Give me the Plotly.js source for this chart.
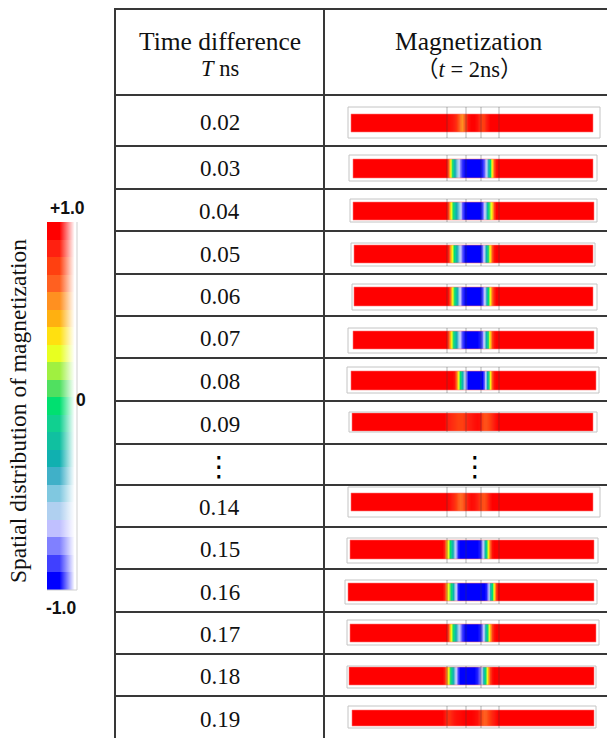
<!DOCTYPE html>
<html>
<head>
<meta charset="utf-8">
<script src="https://cdn.plot.ly/plotly-3.0.1.min.js"></script>
<style>
  html, body { margin: 0; padding: 0; background: #ffffff; }
  #chart { width: 607px; height: 738px; }
</style>
</head>
<body>
<div id="chart"></div>
<script>
// ---- data ---------------------------------------------------------------
// Time difference T (ns) of each simulated case
const timeDiff = ['0.02', '0.03', '0.04', '0.05', '0.06', '0.07', '0.08', '0.09',
                  '0.14', '0.15', '0.16', '0.17', '0.18', '0.19'];

// Sample positions along the nanowire (nm)
const wirePos = [-10, 90, 92, 94, 96, 98, 100, 102, 104, 106, 108, 110, 113, 116, 119,
                 122, 125, 128, 130, 132, 134, 136, 138, 140, 142, 144, 146, 148, 150, 260];

// Normalised magnetization along the wire at t = 2 ns, one list per T
const m002 = [1, 1, 1, 1, 0.97, 0.95, 0.93, 0.9, 0.85, 0.75, 0.65, 0.6, 0.75, 0.95, 1, 1, 0.95, 0.85, 0.8, 0.82, 0.9, 0.95, 1, 1, 1, 1, 1, 1, 1, 1];
const m003 = [1, 1, 1, 1, 0.75, 0.4, 0.05, -0.25, -0.45, -0.6, -0.8, -0.92, -1, -1, -1, -1, -1, -1, -0.95, -0.85, -0.65, -0.35, 0, 0.4, 0.75, 0.95, 1, 1, 1, 1];
const m004 = [1, 1, 1, 1, 0.8, 0.45, 0.15, -0.1, -0.3, -0.45, -0.6, -0.85, -1, -1, -1, -1, -1, -1, -0.9, -0.7, -0.45, -0.05, 0.2, 0.45, 0.8, 1, 1, 1, 1, 1];
const m005 = [1, 1, 1, 1, 0.9, 0.6, 0.3, 0, -0.25, -0.45, -0.65, -0.85, -1, -1, -1, -1, -1, -1, -0.85, -0.6, -0.3, 0.05, 0.4, 0.75, 0.95, 1, 1, 1, 1, 1];
const m006 = [1, 1, 1, 1, 0.95, 0.7, 0.35, 0.05, -0.2, -0.45, -0.7, -0.9, -1, -1, -1, -1, -1, -1, -0.9, -0.7, -0.4, 0, 0.35, 0.7, 0.9, 1, 1, 1, 1, 1];
const m007 = [1, 1, 1, 1, 0.8, 0.5, 0.2, -0.1, -0.3, -0.5, -0.7, -0.88, -1, -1, -1, -1, -1, -0.95, -0.85, -0.6, -0.3, 0.05, 0.45, 0.8, 0.95, 1, 1, 1, 1, 1];
const m008 = [1, 1, 1, 1, 1, 1, 1, 0.95, 0.7, 0.35, 0, -0.3, -0.7, -1, -1, -1, -1, -1, -1, -0.85, -0.5, -0.1, 0.35, 0.75, 0.95, 1, 1, 1, 1, 1];
const m009 = [1, 1, 1, 0.95, 0.9, 0.88, 0.86, 0.84, 0.82, 0.8, 0.8, 0.8, 0.85, 0.9, 0.92, 0.95, 0.97, 0.95, 0.8, 0.75, 0.75, 0.78, 0.82, 0.87, 0.92, 0.96, 1, 1, 1, 1];
const m014 = [1, 1, 1, 1, 0.97, 0.94, 0.9, 0.86, 0.8, 0.72, 0.68, 0.7, 0.82, 0.92, 0.97, 0.95, 0.9, 0.82, 0.76, 0.75, 0.8, 0.88, 0.95, 1, 1, 1, 1, 1, 1, 1];
const m015 = [1, 1, 0.9, 0.55, 0.3, 0, -0.25, -0.5, -0.75, -0.95, -1, -1, -1, -1, -1, -1, -1, -0.95, -0.75, -0.45, -0.05, 0.35, 0.7, 0.95, 1, 1, 1, 1, 1, 1];
const m016 = [1, 1, 0.9, 0.6, 0.3, 0.1, -0.15, -0.45, -0.7, -0.95, -1, -1, -1, -1, -1, -1, -1, -1, -1, -1, -0.95, -0.75, -0.35, 0, 0.4, 0.8, 1, 1, 1, 1];
const m017 = [1, 1, 1, 1, 0.8, 0.45, 0.15, -0.1, -0.35, -0.55, -0.75, -0.9, -1, -1, -1, -1, -1, -0.95, -0.8, -0.55, -0.2, 0.15, 0.5, 0.8, 0.95, 1, 1, 1, 1, 1];
const m018 = [1, 1, 0.92, 0.65, 0.35, 0.05, -0.2, -0.45, -0.7, -0.9, -1, -1, -1, -1, -1, -1, -0.95, -0.8, -0.55, -0.2, 0.15, 0.5, 0.8, 0.95, 1, 1, 1, 1, 1, 1];
const m019 = [1, 1, 0.95, 0.88, 0.85, 0.86, 0.9, 0.93, 0.95, 0.96, 0.97, 0.98, 1, 1, 1, 0.98, 0.95, 0.85, 0.75, 0.7, 0.72, 0.78, 0.83, 0.88, 0.92, 0.96, 1, 1, 1, 1];
const magProfiles = [m002, m003, m004, m005, m006, m007, m008, m009, m014, m015, m016, m017, m018, m019];

// Mesh boundaries marked on the wire (nm)
const meshLines = [95, 114, 129, 147];

// Colour bar levels (-1 … +1) and their colours
const barLevels = [-1.0, -0.9, -0.8, -0.7, -0.6, -0.5, -0.4, -0.3, -0.2, -0.1, 0,
                   0.1, 0.2, 0.3, 0.4, 0.5, 0.6, 0.7, 0.8, 0.9, 1.0];
const barColors = ['#0000ff', '#4040ff', '#8080ff', '#c0c0ff', '#b0d0f0', '#80c8e0', '#40b0c8',
                   '#10b0b0', '#10c0a0', '#10d090', '#00e070', '#50e060', '#a0f040', '#e8ff20',
                   '#ffe010', '#ffb010', '#ff9020', '#ff6020', '#ff4010', '#ff2010', '#ff0000'];

// ---- page geometry (pixels) ---------------------------------------------
const W = 607, H = 738;
const px = x => x / W;
const py = y => 1 - y / H;

const tableLeft = 115, tableMid = 324;
const hLines = [9, 95, 146, 189, 231, 274, 316, 358, 401, 444, 485, 527, 569, 612, 654, 696];
// table row (top, bottom) for each case
const rowSpan = [[95, 146], [146, 189], [189, 231], [231, 274], [274, 316], [316, 358], [358, 401],
                 [401, 444], [485, 527], [527, 569], [569, 612], [612, 654], [654, 696], [696, 740]];
// wire image: left, right, top, bottom
const wireBox = [[351, 593, 114, 132], [353, 593, 159, 178], [353, 594, 202, 220], [354, 593, 245, 263],
                 [354, 593, 287, 306], [353, 594, 331, 349], [351, 596, 371, 390], [352, 593, 413, 431],
                 [351, 593, 493, 511], [350, 594, 540, 559], [348, 594, 583, 601], [350, 596, 624, 642],
                 [349, 594, 667, 685], [352, 594, 710, 726]];
// light frame around each wire image
const frameBox = [[348, 600, 107, 138], [349, 597, 155, 181], [350, 597, 199, 222], [351, 595, 243, 266],
                  [352, 597, 284, 310], [348, 597, 328, 353], [347, 599, 367, 393], [349, 597, 412, 432],
                  [348, 600, 487, 517], [347, 598, 538, 563], [345, 597, 580, 604], [347, 599, 620, 645],
                  [347, 596, 666, 688], [348, 596, 706, 728]];
const wireOrigin = 352; // page x of wire position 0

const colorscale = barLevels.map((v, i) => [(v + 1) / 2, barColors[i]]);

const serif = 'Liberation Serif, Times New Roman, serif';
const lineColor = '#383838';

const data = [];
const layout = {
  width: W, height: H,
  margin: { l: 0, r: 0, t: 0, b: 0 },
  paper_bgcolor: '#ffffff', plot_bgcolor: 'rgba(0,0,0,0)',
  showlegend: false,
  shapes: [], annotations: []
};

// ---- wire strips ----------------------------------------------------------
magProfiles.forEach((prof, i) => {
  const n = i + 1;
  const [l, r, t, b] = wireBox[i];
  const xa = 'xaxis' + n, ya = 'yaxis' + n;
  layout[xa] = { domain: [px(l), px(r)], range: [l - wireOrigin, r - wireOrigin],
                 visible: false, fixedrange: true, anchor: 'y' + n };
  layout[ya] = { domain: [py(b), py(t)], range: [0, 1],
                 visible: false, fixedrange: true, anchor: 'x' + n };
  data.push({
    type: 'heatmap', x: wirePos, y: [0, 1], z: [prof, prof],
    zmin: -1, zmax: 1, colorscale: colorscale, zsmooth: 'best',
    showscale: false, hoverinfo: 'skip',
    xaxis: 'x' + n, yaxis: 'y' + n
  });
  // soft edge of the wire image
  layout.shapes.push({ type: 'rect', xref: 'paper', yref: 'paper',
    x0: px(l), x1: px(r), y0: py(b), y1: py(t),
    line: { color: 'rgba(255,120,120,0.55)', width: 1 }, fillcolor: 'rgba(0,0,0,0)' });
  const [fl, fr, ft, fb] = frameBox[i];
  layout.shapes.push({ type: 'rect', xref: 'paper', yref: 'paper',
    x0: px(fl), x1: px(fr), y0: py(fb), y1: py(ft),
    line: { color: '#c4c4c4', width: 1 }, fillcolor: 'rgba(0,0,0,0)' });
  meshLines.forEach(s => {
    layout.shapes.push({ type: 'line', xref: 'x' + n, yref: 'paper',
      x0: s, x1: s, y0: py(fb), y1: py(ft),
      line: { color: 'rgba(60,60,60,0.38)', width: 1 } });
  });
  // row label
  const [rt, rb] = rowSpan[i];
  layout.annotations.push({ xref: 'paper', yref: 'paper', x: px((tableLeft + tableMid) / 2),
    y: py((rt + rb) / 2 + 1.5), text: timeDiff[i], showarrow: false,
    xanchor: 'center', yanchor: 'middle', font: { family: serif, size: 23, color: '#111' } });
});

// ---- table grid -------------------------------------------------------------
hLines.forEach(y => {
  layout.shapes.push({ type: 'line', xref: 'paper', yref: 'paper',
    x0: px(tableLeft - 1), x1: 1, y0: py(y), y1: py(y),
    line: { color: lineColor, width: 2 } });
});
[tableLeft, tableMid].forEach(x => {
  layout.shapes.push({ type: 'line', xref: 'paper', yref: 'paper',
    x0: px(x), x1: px(x), y0: py(8), y1: 0,
    line: { color: lineColor, width: 2 } });
});

// header
const hdr = (x, y, text, size) => layout.annotations.push({
  xref: 'paper', yref: 'paper', x: px(x), y: py(y), text: text, showarrow: false,
  xanchor: 'center', yanchor: 'middle',
  font: { family: serif + ', Noto Sans CJK JP', size: size, color: '#111' } });
hdr(220, 41, 'Time difference', 25.5);
hdr(220, 68, '<i>T</i> ns', 22.5);
hdr(469, 41, 'Magnetization', 25.5);
hdr(469, 69, '（<i>t</i> = 2ns）', 22.5);

// elided rows
[219, 475].forEach(x => layout.annotations.push({
  xref: 'paper', yref: 'paper', x: px(x), y: py(466), text: '⋮', showarrow: false,
  xanchor: 'center', yanchor: 'middle', font: { family: 'DejaVu Sans', size: 28, color: '#000' } }));

// ---- colour bar -------------------------------------------------------------
const cb = 15;
layout['xaxis' + cb] = { domain: [px(47), px(77)], range: [-0.5, 0.5], visible: false,
                         fixedrange: true, anchor: 'y' + cb };
layout['yaxis' + cb] = { domain: [py(590), py(222)], range: [-1.05, 1.05], visible: false,
                         fixedrange: true, anchor: 'x' + cb };
data.push({
  type: 'heatmap', x: [0], y: barLevels, z: barLevels.map(v => [v]),
  zmin: -1, zmax: 1, colorscale: colorscale, showscale: false, hoverinfo: 'skip',
  xaxis: 'x' + cb, yaxis: 'y' + cb
});
// glossy white fade on the right of the bar
data.push({
  type: 'scatter', mode: 'lines', hoverinfo: 'skip',
  x: [-0.08, 0.5, 0.5, -0.08, -0.08], y: [-1.05, -1.05, 1.05, 1.05, -1.05],
  fill: 'toself', line: { width: 0, color: 'rgba(255,255,255,0)' },
  fillgradient: { type: 'horizontal', start: -0.08, stop: 0.42,
    colorscale: [[0, 'rgba(255,255,255,0)'], [1, 'rgba(255,255,255,1)']] },
  xaxis: 'x' + cb, yaxis: 'y' + cb
});
layout.shapes.push({ type: 'line', xref: 'paper', yref: 'paper',
  x0: px(77), x1: px(77), y0: py(590), y1: py(222), line: { color: '#cfcfcf', width: 1 } });
layout.shapes.push({ type: 'line', xref: 'paper', yref: 'paper',
  x0: px(47), x1: px(77), y0: py(590), y1: py(590), line: { color: '#cfcfcf', width: 1 } });

const cbLabel = (x, y, text) => layout.annotations.push({
  xref: 'paper', yref: 'paper', x: px(x), y: py(y), text: text, showarrow: false,
  xanchor: 'center', yanchor: 'middle',
  font: { family: 'Liberation Sans, Arial, sans-serif', size: 17.5, color: '#111', weight: 'bold' } });
cbLabel(67, 208, '<b>+1.0</b>');
cbLabel(81, 400, '<b>0</b>');
cbLabel(61, 608, '<b>-1.0</b>');

layout.annotations.push({
  xref: 'paper', yref: 'paper', x: px(18), y: py(411), text: 'Spatial distribution of magnetization',
  showarrow: false, textangle: -90, xanchor: 'center', yanchor: 'middle',
  font: { family: serif, size: 23.5, color: '#111' } });

Plotly.newPlot('chart', data, layout, { staticPlot: true, displayModeBar: false });
</script>
</body>
</html>
